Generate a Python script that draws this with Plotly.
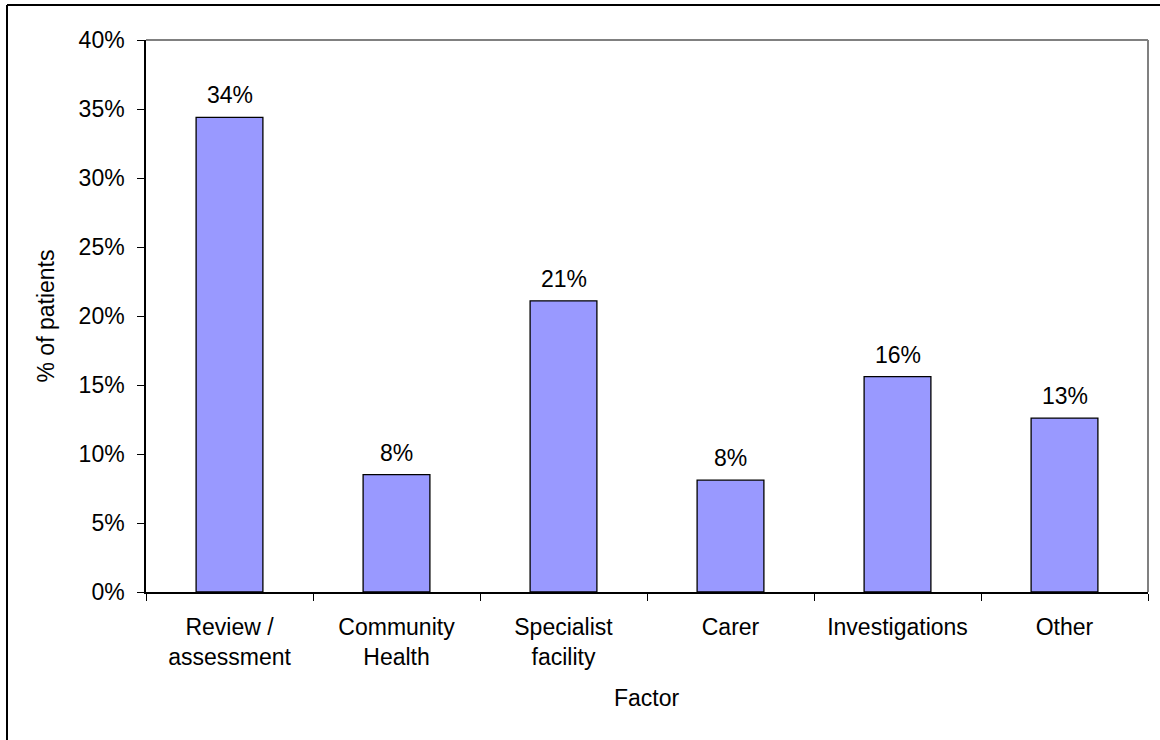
import plotly.graph_objects as go

# Share of patients by factor
factors = ["Review /<br>assessment", "Community<br>Health", "Specialist<br>facility",
           "Carer", "Investigations", "Other"]
shares = [0.344, 0.085, 0.211, 0.081, 0.156, 0.126]
y_ticks = [0, 0.05, 0.10, 0.15, 0.20, 0.25, 0.30, 0.35, 0.40]

FONT = "Liberation Sans, Arial, sans-serif"
FS = 23
W, H = 1160, 740
ML, MR, MT, MB = 146, 12, 40, 148

fig = go.Figure(
    go.Bar(
        x=factors,
        y=shares,
        width=0.4,
        marker=dict(color="#9999FF", line=dict(color="#000000", width=1.3)),
        hoverinfo="skip",
    )
)

# value labels above each bar
for f, v in zip(factors, shares):
    fig.add_annotation(
        x=f, y=v, text=f"{round(v * 100):.0f}%", showarrow=False,
        yanchor="bottom", yshift=7,
        font=dict(family=FONT, size=FS, color="#000000"),
    )

pw = W - ML - MR
ph = H - MT - MB
px = lambda p: (p - ML) / pw
py = lambda p: (H - MB - p) / ph

# plot-area frame (grey top and right edges)
fig.add_shape(type="line", xref="paper", yref="paper", x0=0, x1=1, y0=1, y1=1,
              line=dict(color="#808080", width=2))
fig.add_shape(type="line", xref="paper", yref="paper", x0=1, x1=1, y0=0, y1=1,
              line=dict(color="#808080", width=2))
# outer chart border
fig.add_shape(type="line", xref="paper", yref="paper", x0=px(7), x1=px(W + 5),
              y0=py(5), y1=py(5), line=dict(color="#000000", width=2))
fig.add_shape(type="line", xref="paper", yref="paper", x0=px(7), x1=px(7),
              y0=py(5), y1=py(H + 5), line=dict(color="#000000", width=2))

# x-axis title
fig.add_annotation(
    xref="paper", yref="paper", x=0.5, y=py(698), text="Factor",
    showarrow=False, xanchor="center", yanchor="middle",
    font=dict(family=FONT, size=FS, color="#000000"),
)

fig.update_layout(
    width=W, height=H,
    margin=dict(l=ML, r=MR, t=MT, b=MB),
    paper_bgcolor="#FFFFFF", plot_bgcolor="#FFFFFF",
    font=dict(family=FONT, size=FS, color="#000000"),
    showlegend=False,
    bargap=0.6,
)
fig.update_xaxes(
    showline=True, linecolor="#000000", linewidth=1.5,
    ticks="outside", ticklen=7, tickcolor="#000000", tickwidth=1,
    tickson="boundaries", showgrid=False, ticklabelstandoff=14,
    tickfont=dict(family=FONT, size=FS),
)
fig.update_yaxes(
    range=[0, 0.4], tickvals=y_ticks, tickformat=".0%",
    showline=True, linecolor="#000000", linewidth=1.5,
    ticks="outside", ticklen=7, tickcolor="#000000", tickwidth=1,
    showgrid=False, zeroline=False, ticklabelstandoff=8,
    title=dict(text="% of patients", standoff=18, font=dict(family=FONT, size=FS)),
    tickfont=dict(family=FONT, size=FS),
)

fig.write_html("out.html")
